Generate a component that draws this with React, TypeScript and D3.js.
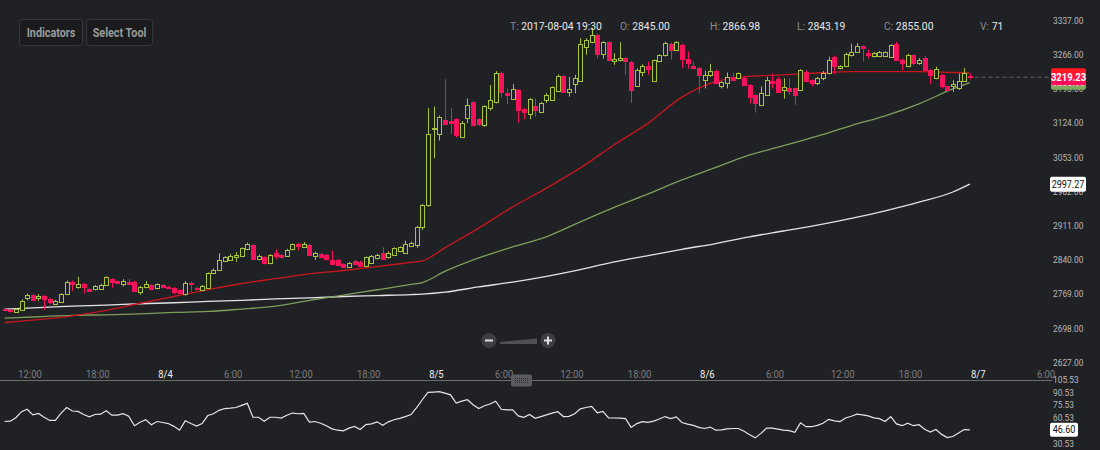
import React from 'react';
import * as d3 from 'd3';

// ---------- DATA ----------
const START = Date.UTC(2017, 7, 3, 9, 30); // first 30-minute candle
const STEP = 30 * 60 * 1000;

const opens = [
  2739,2736,2732,2736,2760,2767,2760,2765,2758,2748,
  2753,2769,2795,2784,2790,2779,2779,2780,2788,2800,
  2796,2791,2795,2795,2773,2783,2788,2781,2788,2784,
  2782,2777,2769,2793,2782,2777,2782,2812,2819,2838,
  2840,2845,2849,2863,2871,2841,2845,2833,2854,2850,
  2848,2862,2873,2867,2871,2848,2852,2850,2840,2840,
  2831,2826,2838,2836,2827,2834,2843,2854,2845,2850,
  2858,2855,2869,
  2871,2909,2954,3112,3101,3130,3128,3132,3096,3134,
  3167,3132,3120,3155,3167,3229,3186,3175,3193,3153,
  3143,3160,3148,3172,3172,3191,3222,3189,3205,3212,
  3283,3292,3307,3268,3292,3252,3254,3259,3251,3202,
  3231,3243,3212,3252,3265,3289,3276,3287,3257,3243,
  3238,3213,3224,3232,3201,3208,3219,3217,3218,3203,
  3182,3162,3182,3211,3215,3193,3196,3196,3193,3231,
  3213,3208,3217,3227,3262,3238,3243,3265,3272,3284,
  3269,3263,3263,3263,3262,3288,3256,3243,3265,3248,
  3260,3234,3217,3224,3200,3200,3196,3212,3221,
];
const highs = [
  2741,2738,2740,2758,2770,2769,2769,2767,2760,2757,
  2771,2797,2797,2805,2792,2781,2788,2790,2806,2802,
  2798,2800,2800,2797,2786,2796,2790,2791,2790,2786,
  2784,2779,2796,2795,2784,2788,2814,2822,2854,2848,
  2852,2856,2866,2876,2873,2851,2847,2852,2862,2852,
  2863,2874,2875,2877,2873,2857,2854,2852,2859,2842,
  2833,2836,2840,2838,2847,2850,2853,2866,2858,2866,
  2868,2880,2878,
  2911,2956,3155,3158,3140,3215,3155,3134,3128,3175,
  3170,3134,3161,3203,3232,3231,3196,3205,3195,3156,
  3176,3175,3168,3186,3200,3225,3224,3220,3224,3300,
  3300,3322,3310,3294,3294,3269,3292,3261,3253,3238,
  3246,3252,3256,3267,3293,3291,3294,3289,3273,3252,
  3240,3233,3247,3235,3211,3229,3229,3229,3220,3205,
  3184,3200,3220,3227,3220,3217,3217,3198,3236,3234,
  3215,3220,3232,3262,3264,3244,3270,3289,3290,3286,
  3277,3272,3274,3273,3288,3293,3258,3268,3267,3259,
  3263,3236,3241,3226,3202,3213,3227,3238,3227,
];
const lows = [
  2733,2731,2730,2734,2756,2755,2755,2736,2748,2746,
  2751,2767,2775,2780,2770,2773,2777,2778,2786,2782,
  2790,2785,2789,2773,2768,2781,2777,2779,2781,2780,
  2768,2770,2766,2774,2778,2775,2780,2810,2817,2836,
  2838,2836,2847,2860,2840,2839,2831,2831,2841,2843,
  2846,2860,2860,2865,2848,2840,2843,2839,2829,2827,
  2824,2824,2829,2825,2825,2832,2841,2840,2843,2848,
  2856,2853,2867,
  2865,2902,2950,3051,3088,3120,3101,3094,3093,3124,
  3118,3118,3116,3150,3165,3177,3163,3172,3125,3132,
  3132,3137,3146,3166,3170,3188,3187,3179,3186,3210,
  3266,3290,3258,3258,3254,3245,3252,3224,3166,3199,
  3221,3224,3210,3250,3262,3256,3274,3238,3237,3236,
  3186,3196,3220,3205,3196,3196,3212,3215,3201,3165,
  3146,3160,3180,3196,3187,3175,3182,3162,3191,3210,
  3200,3203,3213,3225,3226,3236,3240,3262,3270,3252,
  3258,3260,3261,3261,3260,3253,3234,3240,3245,3245,
  3232,3205,3215,3196,3189,3189,3193,3210,3215,
];
const closes = [
  2735,2733,2738,2755,2767,2757,2766,2759,2752,2755,
  2769,2795,2790,2791,2784,2775,2786,2788,2804,2795,
  2793,2797,2791,2775,2784,2791,2779,2789,2783,2782,
  2774,2772,2793,2789,2780,2786,2812,2819,2840,2845,
  2849,2851,2864,2873,2842,2849,2833,2850,2848,2845,
  2860,2872,2869,2874,2850,2855,2845,2841,2831,2829,
  2826,2834,2831,2827,2845,2848,2851,2842,2855,2864,
  2866,2872,2876,
  2909,2954,3101,3114,3137,3123,3124,3099,3125,3162,
  3120,3122,3159,3172,3229,3189,3183,3194,3151,3148,
  3173,3151,3166,3182,3198,3222,3189,3194,3217,3288,
  3296,3307,3268,3292,3256,3257,3259,3252,3193,3235,
  3243,3237,3254,3265,3290,3276,3292,3258,3249,3238,
  3224,3224,3232,3207,3209,3219,3214,3227,3203,3179,
  3165,3186,3213,3208,3189,3198,3191,3182,3234,3212,
  3208,3217,3229,3254,3243,3242,3267,3272,3284,3279,
  3266,3269,3272,3271,3286,3255,3249,3265,3248,3256,
  3234,3224,3236,3200,3193,3206,3212,3229,3219.23,
];

// lower-panel oscillator, one value per candle
const oscValues = [
  56.3,56.7,60.8,67.8,70.7,64.1,65.8,61.3,57.6,57.6,
  66.2,72.7,68.6,68.2,64.5,61.7,64.5,64.9,69.0,63.7,
  63.7,65.4,62.5,51.4,55.5,58.4,52.6,56.3,55.1,53.9,
  50.6,46.1,57.1,53.9,51.0,53.9,63.3,65.4,69.4,71.5,
  71.9,72.7,75.2,77.6,61.3,61.3,56.7,61.3,61.3,60.4,
  63.7,66.2,65.4,65.8,55.5,56.3,54.3,51.4,47.7,46.1,
  45.3,48.5,50.6,46.9,52.6,53.5,55.9,51.8,55.9,58.4,
  60.0,62.1,64.5,72.7,81.8,90.4,90.8,91.2,89.5,87.5,
  78.0,80.1,81.8,76.0,71.5,74.8,76.8,80.1,70.7,69.9,
  69.9,62.9,61.3,64.5,60.0,62.1,64.1,66.2,67.8,62.1,
  62.3,65.4,71.1,72.7,74.0,66.6,68.2,60.4,60.4,60.2,
  59.6,49.4,53.9,56.1,55.3,56.7,59.2,62.1,59.8,61.7,
  55.1,53.3,51.8,49.4,48.1,49.8,46.1,46.5,47.7,48.1,
  48.1,44.9,40.8,37.1,42.4,48.5,48.5,47.3,46.1,45.7,
  43.6,54.7,50.2,50.2,51.8,54.3,58.8,57.1,56.3,60.4,
  62.5,64.9,64.1,62.9,60.6,59.6,56.3,62.1,53.5,51.4,
  54.3,51.4,52.6,47.3,44.0,46.9,41.2,37.5,38.7,42.8,
  46.9,46.6,
];

// moving averages read at selected candle indices
const maIdx = [0,6,12,18,24,30,36,42,48,54,60,66,72,74,78,84,90,96,102,108,114,120,126,132,138,144,150,156,162,168,171];
const maRed = [2710,2716,2724,2735,2750,2764,2778,2791,2801,2811,2818,2826,2835,2838,2865,2906,2950,2989,3031,3079,3124,3178,3210,3221,3224,3228,3231,3231,3231,3229,3228];
const maGreen = [2719,2722,2725,2726,2728,2731,2733,2738,2744,2756,2767,2778,2789,2793,2816,2844,2867,2888,2919,2949,2977,3006,3032,3058,3077,3097,3119,3139,3164,3195,3208];
const maWhite = [2738,2741,2744,2746,2749,2751,2754,2756,2759,2761,2764,2766,2768,2769,2773,2784,2794,2806,2820,2836,2849,2862,2874,2888,2900,2912,2926,2942,2960,2981,2997.27];

const priceTicks = [3337, 3266, 3195, 3124, 3053, 2982, 2911, 2840, 2769, 2698, 2627];
const oscTicks = [105.53, 90.53, 75.53, 60.53, 45.53, 30.53];
const timeTicks: [number, string, boolean][] = [
  [Date.UTC(2017,7,3,12), '12:00', false],
  [Date.UTC(2017,7,3,18), '18:00', false],
  [Date.UTC(2017,7,4,0), '8/4', true],
  [Date.UTC(2017,7,4,6), '6:00', false],
  [Date.UTC(2017,7,4,12), '12:00', false],
  [Date.UTC(2017,7,4,18), '18:00', false],
  [Date.UTC(2017,7,5,0), '8/5', true],
  [Date.UTC(2017,7,5,6), '6:00', false],
  [Date.UTC(2017,7,5,12), '12:00', false],
  [Date.UTC(2017,7,5,18), '18:00', false],
  [Date.UTC(2017,7,6,0), '8/6', true],
  [Date.UTC(2017,7,6,6), '6:00', false],
  [Date.UTC(2017,7,6,12), '12:00', false],
  [Date.UTC(2017,7,6,18), '18:00', false],
  [Date.UTC(2017,7,7,0), '8/7', true],
  [Date.UTC(2017,7,7,6), '6:00', false],
];
const header: [string, string][] = [
  ['T:', '2017-08-04 19:30'], ['O:', '2845.00'], ['H:', '2866.98'],
  ['L:', '2843.19'], ['C:', '2855.00'], ['V:', '71'],
];
const headerX = [510, 620, 710, 797, 884, 980];

// ---------- STYLE ----------
const BG = '#202125';
const UP = '#a6c43c';
const DOWN = '#f5135b';
const FONT = 'Roboto, "Noto Sans", sans-serif';

const CT = ({ x, y, sx = 0.88, children, anchor = 'start', ...rest }: any) => (
  <text transform={`translate(${x},${y}) scale(${sx},1)`} textAnchor={anchor} dy="0.35em" fontFamily={FONT} {...rest}>{children}</text>
);

export default function App() {
  const x = d3.scaleUtc()
    .domain([new Date(Date.UTC(2017, 7, 3, 12)), new Date(Date.UTC(2017, 7, 7, 6))])
    .range([30, 1046]);
  const y = d3.scaleLinear().domain([2627, 3337]).range([362.5, 20.5]);
  const yo = d3.scaleLinear().domain([30.53, 105.53]).range([443.5, 379.5]);
  const tOf = (i: number) => new Date(START + i * STEP + STEP / 2);
  const cx = (i: number) => Math.round(x(tOf(i))) + 0.5;

  const maLine = (vals: number[]) =>
    d3.line<number>().x((_, k) => x(tOf(maIdx[k]))).y(v => y(v)).curve(d3.curveMonotoneX)(vals) || '';
  const oscLine = d3.line<number>().x((_, i) => x(tOf(i))).y(v => yo(v))(oscValues) || '';

  const last = closes.length - 1;
  const lastY = y(closes[last]);

  return (
    <svg width={1100} height={450} style={{ display: 'block', background: BG }}>
      <style>{`body{margin:0;background:${BG};}`}</style>
      <rect x={0} y={0} width={1100} height={450} fill={BG} />

      {/* moving averages */}
      <path d={maLine(maWhite)} fill="none" stroke="#e4e4e4" strokeWidth={1.3} />
      <path d={maLine(maGreen)} fill="none" stroke="#7f9e5c" strokeWidth={1.3} />
      <path d={maLine(maRed)} fill="none" stroke="#c8161e" strokeWidth={1.3} />

      {/* candles */}
      {opens.map((o, i) => {
        const c = closes[i];
        const up = c >= o;
        const col = up ? UP : DOWN;
        const xx = cx(i);
        const top = Math.round(y(Math.max(o, c))) + 0.5;
        const bot = Math.round(y(Math.min(o, c))) + 0.5;
        return (
          <g key={i}>
            <line x1={xx} x2={xx} y1={y(highs[i])} y2={y(lows[i])} stroke={col} strokeWidth={1} />
            <rect x={xx - 2} y={top} width={4} height={Math.max(1, bot - top)}
              fill={up ? BG : col} stroke={col} strokeWidth={1} />
          </g>
        );
      })}

      {/* last price dashed line */}
      <line x1={cx(last) + 4} x2={1050} y1={lastY} y2={lastY} stroke="#5e5f63" strokeDasharray="4,3" />

      {/* buttons */}
      <rect x={19.5} y={19.5} width={63} height={26} rx={3} fill="#1b1b1d" stroke="#36373b" />
      <CT x={51} y={32.5} anchor="middle" fontSize={12} fontWeight="bold" fill="#9a9a9a" sx={0.9}>Indicators</CT>
      <rect x={86.5} y={19.5} width={66} height={26} rx={3} fill="#1b1b1d" stroke="#36373b" />
      <CT x={119.5} y={32.5} anchor="middle" fontSize={12} fontWeight="bold" fill="#9a9a9a" sx={0.9}>Select Tool</CT>

      {/* header OHLC */}
      {header.map(([k, v], i) => (
        <CT key={k} x={headerX[i]} y={26} fontSize={11.5} sx={0.9}>
          <tspan fill="#8c8c8c">{k} </tspan><tspan fill="#e8e8e8">{v}</tspan>
        </CT>
      ))}

      {/* price axis */}
      <defs>
        <clipPath id="pax"><rect x={1040} y={16} width={60} height={352} /></clipPath>
      </defs>
      <g clipPath="url(#pax)">
        {priceTicks.map(p => (
          <CT key={p} x={1053} y={y(p)} fontSize={9.5} fill="#b8b8b8">{p.toFixed(2)}</CT>
        ))}
      </g>
      {/* white MA label */}
      <rect x={1050} y={y(maWhite[maWhite.length - 1]) - 7.5} width={36} height={15} rx={2} fill="#ffffff" />
      <CT x={1068} y={y(maWhite[maWhite.length - 1])} anchor="middle" fontSize={10} fill="#111" sx={0.9}>
        {maWhite[maWhite.length - 1].toFixed(2)}
      </CT>
      {/* green MA label (partly hidden) */}
      <rect x={1051} y={y(maGreen[maGreen.length - 1]) - 7} width={35} height={14} rx={2} fill="#7fa85a" />
      <CT x={1068.5} y={y(maGreen[maGreen.length - 1])} anchor="middle" fontSize={10} fill="#fff" sx={0.9}>
        {maGreen[maGreen.length - 1].toFixed(2)}
      </CT>
      {/* last price label */}
      <defs>
        <linearGradient id="redg" x1="0" y1="0" x2="0" y2="1">
          <stop offset="0" stopColor="#ff1a1a" />
          <stop offset="1" stopColor="#ff0a64" />
        </linearGradient>
      </defs>
      <rect x={1051} y={lastY - 9} width={35} height={17} rx={2} fill="url(#redg)" />
      <CT x={1068.5} y={lastY} anchor="middle" fontSize={10.5} fontWeight="bold" fill="#fff" sx={0.9}>
        {closes[last].toFixed(2)}
      </CT>

      {/* zoom control */}
      <circle cx={489} cy={340.5} r={7.5} fill="#3d3e43" />
      <line x1={485} x2={493} y1={340.5} y2={340.5} stroke="#e0e0e0" strokeWidth={2} />
      <polygon points="500,342 537,338.5 537,344 500,344" fill="#505156" />
      <circle cx={548} cy={340.5} r={7.5} fill="#3d3e43" />
      <line x1={544} x2={552} y1={340.5} y2={340.5} stroke="#e0e0e0" strokeWidth={2} />
      <line x1={548} x2={548} y1={336.5} y2={344.5} stroke="#e0e0e0" strokeWidth={2} />

      {/* time axis */}
      {timeTicks.map(([t, lab, day], i) => (
        <CT key={i} x={x(new Date(t))} y={374} anchor="middle" fontSize={10.5}
          fill={day ? '#f2f2f2' : '#7d7d7d'} sx={0.9}>{lab}</CT>
      ))}
      <line x1={0} x2={1052} y1={380.5} y2={380.5} stroke="#6d6d6d" strokeWidth={1} />
      <rect x={511} y={374.5} width={21} height={12} rx={2} fill="#5b5c60" />
      {[0, 1, 2].map(r => (
        <line key={r} x1={515} x2={528} y1={378.5 + r * 2} y2={378.5 + r * 2} stroke="#2c2c2f" strokeDasharray="1,1" />
      ))}

      {/* oscillator panel */}
      <path d={oscLine} fill="none" stroke="#e6e6e6" strokeWidth={1.2} />
      {oscTicks.map(v => (
        <CT key={v} x={1053} y={yo(v)} fontSize={9.5} fill="#b8b8b8">{v.toFixed(2)}</CT>
      ))}
      <rect x={1050} y={yo(oscValues[last]) - 7} width={28} height={14} rx={2} fill="#ffffff" />
      <CT x={1064} y={yo(oscValues[last])} anchor="middle" fontSize={10} fill="#111" sx={0.9}>46.60</CT>
    </svg>
  );
}
